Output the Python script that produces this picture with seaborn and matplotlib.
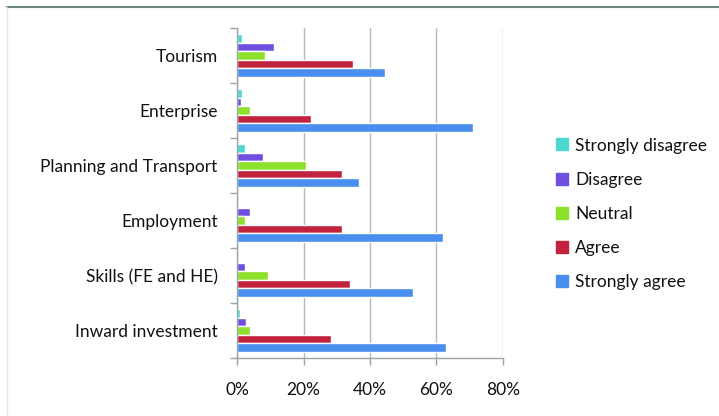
import matplotlib
matplotlib.use("Agg")
import matplotlib.pyplot as plt
import seaborn as sns
import pandas as pd
from matplotlib.lines import Line2D
from matplotlib.ticker import FixedLocator, PercentFormatter

categories = ["Tourism", "Enterprise", "Planning and Transport", "Employment",
              "Skills (FE and HE)", "Inward investment"]
responses = ["Strongly disagree", "Disagree", "Neutral", "Agree", "Strongly agree"]
strongly_disagree = [1.5, 1.5, 2.3, 0.0, 0.0, 1.0]
disagree = [11.0, 1.3, 7.9, 3.9, 2.3, 2.6]
neutral = [8.4, 3.8, 20.7, 2.3, 9.3, 3.8]
agree = [35.0, 22.2, 31.6, 31.6, 34.0, 28.4]
strongly_agree = [44.4, 70.9, 36.8, 61.9, 53.0, 62.9]
colors = ["#4dd8d4", "#6e4fe0", "#8de12b", "#c1223e", "#4a8ff0"]

series = [strongly_disagree, disagree, neutral, agree, strongly_agree]
rows = []
for resp, vals in zip(responses, series):
    for cat, v in zip(categories, vals):
        rows.append({"Category": cat, "Response": resp, "Value": v})
df = pd.DataFrame(rows)

sns.set_style("white")
plt.rcParams["font.family"] = ["Lato", "DejaVu Sans"]

fig = plt.figure(figsize=(7.19, 4.16), dpi=100)
ax = fig.add_axes([237 / 719, 1 - 358 / 416, 266 / 719, 330 / 416])

sns.barplot(data=df, y="Category", x="Value", hue="Response", order=categories,
            hue_order=responses, palette=colors, orient="h", width=0.78,
            saturation=1, ax=ax, legend=False, errorbar=None)

ax.set_xlim(0, 80)
ax.set_ylim(5.5, -0.5)
ax.set_xticks([0, 20, 40, 60, 80])
ax.xaxis.set_major_formatter(PercentFormatter(decimals=0))
ax.grid(axis="x", color="#b0bcbc", linewidth=1.0)
ax.set_axisbelow(True)
ax.set_xlabel("")
ax.set_ylabel("")

for s in ["top", "right"]:
    ax.spines[s].set_visible(False)
for s in ["left", "bottom"]:
    ax.spines[s].set_color("#9aa5a5")
    ax.spines[s].set_linewidth(1.0)

fs = 12.5
ax.yaxis.set_minor_locator(FixedLocator([i - 0.5 for i in range(len(categories) + 1)]))
ax.tick_params(axis="y", which="major", length=0, pad=14, labelsize=fs, labelcolor="#111111")
ax.tick_params(axis="y", which="minor", length=5, color="#9aa5a5", width=1, direction="out", left=True)
ax.tick_params(axis="x", which="major", length=5, color="#9aa5a5", width=1, direction="out",
               bottom=True, pad=12, labelsize=fs, labelcolor="#111111")

handles = [Line2D([0], [0], marker="s", linestyle="none", markersize=8,
                  markerfacecolor=c, markeredgecolor=c) for c in colors]
fig.legend(handles, responses, loc="center left", bbox_to_anchor=(538 / 719, 1 - 214 / 416),
           frameon=False, fontsize=fs, labelspacing=1.05, handletextpad=0.25,
           handlelength=1.0, labelcolor="#111111")

# outer frame lines
fig.add_artist(Line2D([7 / 719, 1], [1 - 7 / 416, 1 - 7 / 416], transform=fig.transFigure,
                      color="#6f8584", linewidth=1.5))
fig.add_artist(Line2D([7 / 719, 7 / 719], [0, 1 - 7 / 416], transform=fig.transFigure,
                      color="#e6e9e9", linewidth=1.0))

fig.savefig("out.png", dpi=100)
